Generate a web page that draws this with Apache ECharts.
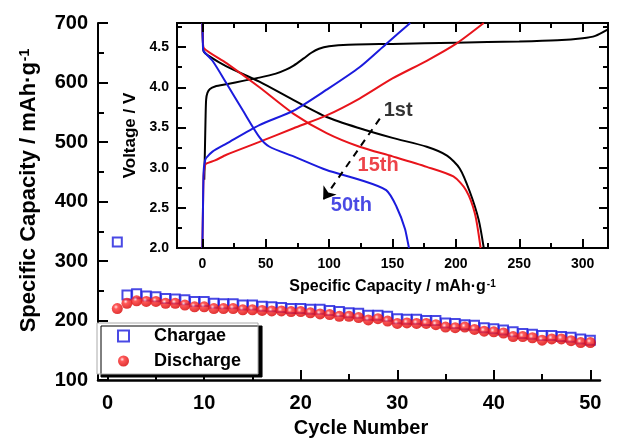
<!DOCTYPE html>
<html><head><meta charset="utf-8">
<script src="https://cdn.jsdelivr.net/npm/echarts@6/dist/echarts.min.js"></script>
<style>html,body{margin:0;padding:0;background:#fff}#c{width:643px;height:445px}</style>
</head><body><div id="c"></div>
<script>
// ---- main plot data ----
const cycles = [1,2,3,4,5,6,7,8,9,10,11,12,13,14,15,16,17,18,19,20,21,22,23,24,25,26,27,28,29,30,31,32,33,34,35,36,37,38,39,40,41,42,43,44,45,46,47,48,49,50];
const chargeCap = [332,243,245,241,240,237,236,235,232,232,229,228,228,226,226,224,223,222,220,220,219,219,217,215,213,212,209,209,207,203,202,202,200,200,196,195,193,192,188,186,184,181,178,177,175,175,173,172,169,167];
const dischargeCap = [220,229,233,232,232,229,229,226,223,223,220,220,220,218,218,217,216,216,215,215,213,211,210,207,207,205,201,203,199,195,196,195,195,193,189,188,189,185,182,181,179,173,173,171,167,169,169,166,163,163];

// ---- inset data: [capacity, voltage] ----
const charge1st = [[1.5,2.85],[2,3.2],[2.5,3.6],[3,3.85],[4,3.93],[6,3.98],[10,4.01],[20,4.04],[32,4.08],[45,4.12],[58,4.17],[66,4.22],[72,4.27],[80,4.36],[86,4.43],[92,4.48],[100,4.51],[115,4.53],[150,4.54],[200,4.555],[250,4.57],[280,4.585],[300,4.61],[310,4.64],[320,4.72]];
const discharge1st = [[0,4.8],[0.5,4.55],[1,4.45],[5,4.39],[19,4.26],[45,4.07],[72,3.84],[98,3.63],[124,3.49],[150,3.37],[177,3.26],[193,3.15],[203,2.99],[211,2.7],[218,2.35],[222,2.0]];
const charge15th = [[0,2.0],[0.5,2.5],[1,2.9],[2,3.02],[3,3.05],[10,3.09],[19,3.16],[45,3.32],[72,3.49],[98,3.65],[124,3.86],[150,4.11],[177,4.33],[200,4.54],[222,4.8]];
const discharge15th = [[0,4.8],[0.5,4.55],[1,4.49],[19,4.3],[45,4.0],[72,3.67],[98,3.43],[124,3.26],[150,3.14],[177,3.01],[198,2.89],[208,2.72],[215,2.43],[219.5,2.0]];
const charge50th = [[0,2.0],[0.5,2.5],[1,2.95],[2,3.08],[3,3.12],[8,3.2],[19,3.3],[45,3.53],[72,3.71],[98,3.97],[124,4.25],[145,4.54],[164,4.8]];
const discharge50th = [[0,4.8],[0.5,4.5],[1,4.45],[8,4.33],[19,4.05],[32,3.71],[45,3.38],[53,3.26],[72,3.14],[98,2.97],[124,2.85],[145,2.72],[153,2.52],[160,2.23],[163,2.0]];
const cycleLabels = [{t:'1st',c:[154.5,3.71],col:'#000'},{t:'15th',c:[138.7,3.03],col:'#e8141b'},{t:'50th',c:[117.6,2.53],col:'#1b1bdd'}];
const arrowFrom = [140,3.61], arrowTo = [95.3,2.6];

// ---- axis ranges / ticks ----
const mainXRange = [-1, 51], mainXTickRange = [0, 50], mainXStep = 10;
const mainYRange = [100, 700], mainYStep = 100;
const insetXRange = [-20, 320], insetXTickRange = [0, 300], insetXStep = 50;
const insetYRange = [2.0, 4.8], insetYStep = 0.5;
const mainXMajor = [0,10,20,30,40,50], mainXMinor = [5,15,25,35,45];
const insetXMajor = [0,50,100,150,200,250,300], insetXMinor = [25,75,125,175,225,275];
const insetYMajor = [2.0,2.5,3.0,3.5,4.0,4.5], insetYMinor = [2.25,2.75,3.25,3.75,4.25,4.75];

const FONT = 'Liberation Sans, Arial, sans-serif';
const BLUE = '#1b1bdd', RED = '#e8141b';
const bold = (s, extra) => Object.assign({fontFamily: FONT, fontWeight: 'bold', fontSize: s, color: '#000'}, extra || {});
const tk = len => ({show:true, inside:true, length:len, lineStyle:{width:2, color:'#000'}});
const mtk = len => ({show:true, splitNumber:2, length:len, lineStyle:{width:2, color:'#000'}});
const line = w => ({show:true, onZero:false, lineStyle:{color:'#000', width:w}});
const noTick = {show:false};

// layout (pixels)
const MAIN = {left:98, top:23, width:502, height:357};
const INSET = {left:177, top:23, width:431, height:225};
const mainPx = MAIN.width / (mainXRange[1]-mainXRange[0]);
const insetPx = INSET.width / (insetXRange[1]-insetXRange[0]);
const mainYUnitPerPx = (mainYRange[1]-mainYRange[0]) / MAIN.height;
const insetYUnitPerPx = (insetYRange[1]-insetYRange[0]) / INSET.height;
const insetXUnitPerPx = 1 / insetPx;

// tick marks as marker segments in axis (data) space
const mainTickSegs = [].concat(
  mainXMajor.map(v => [{coord:[v, mainYRange[0]]}, {coord:[v, mainYRange[0] + 10*mainYUnitPerPx]}]),
  mainXMinor.map(v => [{coord:[v, mainYRange[0]]}, {coord:[v, mainYRange[0] + 6*mainYUnitPerPx]}])
);
const insetTickSegs = [].concat(
  insetXMajor.map(v => [{coord:[v, insetYRange[0]]}, {coord:[v, insetYRange[0] + 9*insetYUnitPerPx]}]),
  insetXMinor.map(v => [{coord:[v, insetYRange[0]]}, {coord:[v, insetYRange[0] + 5*insetYUnitPerPx]}]),
  insetXMajor.map(v => [{coord:[v, insetYRange[1]]}, {coord:[v, insetYRange[1] - 9*insetYUnitPerPx]}]),
  insetXMinor.map(v => [{coord:[v, insetYRange[1]]}, {coord:[v, insetYRange[1] - 5*insetYUnitPerPx]}]),
  insetYMajor.map(v => [{coord:[insetXRange[0], v]}, {coord:[insetXRange[0] + 9*insetXUnitPerPx, v]}]),
  insetYMinor.map(v => [{coord:[insetXRange[0], v]}, {coord:[insetXRange[0] + 5*insetXUnitPerPx, v]}]),
  insetYMajor.map(v => [{coord:[insetXRange[1], v]}, {coord:[insetXRange[1] - 9*insetXUnitPerPx, v]}]),
  insetYMinor.map(v => [{coord:[insetXRange[1], v]}, {coord:[insetXRange[1] - 5*insetXUnitPerPx, v]}])
);
const tickMarkLine = segs => ({silent:true, symbol:['none','none'], label:{show:false}, emphasis:{disabled:true},
  lineStyle:{color:'#000', width:2, type:'solid'}, data: segs});

const chart = echarts.init(document.getElementById('c'), null, {renderer:'canvas'});

const option = {
  animation: false,
  backgroundColor: '#fff',
  grid: [
    Object.assign({show:false}, MAIN),
    Object.assign({show:true, backgroundColor:'#fff', borderColor:'#000', borderWidth:2}, INSET),
    {show:false, top:MAIN.top, height:MAIN.height,
      left: MAIN.left + (mainXTickRange[0]-mainXRange[0])*mainPx,
      width: (mainXTickRange[1]-mainXTickRange[0])*mainPx},
    {show:false, top:INSET.top, height:INSET.height,
      left: INSET.left + (insetXTickRange[0]-insetXRange[0])*insetPx,
      width: (insetXTickRange[1]-insetXTickRange[0])*insetPx}
  ],
  xAxis: [
    {type:'value', gridIndex:0, min:mainXRange[0], max:mainXRange[1], position:'bottom', splitLine:{show:false},
      axisLine:line(2.5), axisTick:noTick, axisLabel:{show:false}},
    {type:'value', gridIndex:1, min:insetXRange[0], max:insetXRange[1], position:'bottom', splitLine:{show:false},
      axisLine:line(2), axisTick:noTick, axisLabel:{show:false}},
    {type:'value', gridIndex:2, min:mainXTickRange[0], max:mainXTickRange[1], interval:mainXStep, position:'bottom',
      splitLine:{show:false}, axisLine:{show:false}, axisTick:noTick,
      axisLabel: bold(20, {margin:13}),
      name:'Cycle Number', nameLocation:'middle', nameGap:38,
      nameTextStyle: bold(20, {padding:[0,0,0,24]})},
    {type:'value', gridIndex:3, min:insetXTickRange[0], max:insetXTickRange[1], interval:insetXStep, position:'bottom',
      splitLine:{show:false}, axisLine:{show:false}, axisTick:noTick,
      axisLabel: bold(14, {margin:9}),
      name:'Specific Capacity / mAh·g{sup|-1}', nameLocation:'middle', nameGap:31,
      nameTextStyle: bold(16, {rich:{sup: bold(10, {verticalAlign:'top', padding:[0,0,6,1]})}})}
  ],
  yAxis: [
    {type:'value', gridIndex:0, min:mainYRange[0], max:mainYRange[1], interval:mainYStep, position:'left', splitLine:{show:false},
      axisLine:line(2), axisTick:tk(10), minorTick:mtk(6),
      axisLabel: bold(20, {margin:10}),
      name:'Specific Capacity / mAh·g{sup|-1}', nameLocation:'middle', nameGap:58, nameRotate:90,
      nameTextStyle: bold(22, {padding:[0,0,0,22], rich:{sup: bold(14, {verticalAlign:'top', padding:[0,0,8,1]})}})},
    {type:'value', gridIndex:1, min:insetYRange[0], max:insetYRange[1], interval:insetYStep, position:'left', splitLine:{show:false},
      axisLine:line(2), axisTick:noTick,
      axisLabel: bold(14, {margin:8, showMaxLabel:false, formatter: v => v.toFixed(1)}),
      name:'Voltage / V', nameLocation:'middle', nameGap:33, nameRotate:90,
      nameTextStyle: bold(17)},
    {type:'value', gridIndex:2, min:mainYRange[0], max:mainYRange[1], show:false},
    {type:'value', gridIndex:3, min:insetYRange[0], max:insetYRange[1], show:false}
  ],
  legend: {
    data:['Chargae','Discharge'], orient:'vertical', left:97, top:323,
    itemWidth:11, itemHeight:11, itemGap:5, padding:[3,17,3,20],
    backgroundColor:'#fff', borderColor:'#aaa', borderWidth:1,
    shadowColor:'#000', shadowBlur:0, shadowOffsetX:4, shadowOffsetY:3,
    textStyle: bold(18, {padding:[0,0,0,20], lineHeight:20}),
    z: 10
  },
  series: [
    {name:'Chargae', type:'scatter', xAxisIndex:0, yAxisIndex:0, clip:false,
      data: cycles.map((c,i)=>[c, chargeCap[i]]), symbol:'rect', symbolSize:9,
      itemStyle:{color:'#fff', borderColor:BLUE, borderWidth:2}, z:2,
      markLine: tickMarkLine(mainTickSegs)},
    {name:'Discharge', type:'scatter', xAxisIndex:0, yAxisIndex:0, clip:false,
      data: cycles.map((c,i)=>[c, dischargeCap[i]]), symbol:'circle', symbolSize:11,
      itemStyle:{color: new echarts.graphic.RadialGradient(0.38,0.35,0.65,[
        {offset:0, color:'#ffe0e0'},{offset:0.3, color:'#ff3030'},{offset:1, color:'#d80000'}])}, z:3},
    {name:'c1', type:'line', xAxisIndex:1, yAxisIndex:1, data: charge1st, showSymbol:false, smooth:0.25,
      lineStyle:{color:'#000', width:2}, z:4,
      markLine: tickMarkLine(insetTickSegs)},
    {name:'d1', type:'line', xAxisIndex:1, yAxisIndex:1, data: discharge1st, showSymbol:false, smooth:0.25,
      lineStyle:{color:'#000', width:2}, z:4,
      markLine:{silent:true, symbol:['none','arrow'], symbolSize:12, label:{show:false},
        lineStyle:{color:'#000', width:2, type:[7,6]},
        data:[[{coord:arrowFrom},{coord:arrowTo}]]}
    },
    {name:'c15', type:'line', xAxisIndex:1, yAxisIndex:1, data: charge15th, showSymbol:false, smooth:0.25,
      lineStyle:{color:RED, width:2}, z:4},
    {name:'d15', type:'line', xAxisIndex:1, yAxisIndex:1, data: discharge15th, showSymbol:false, smooth:0.25,
      lineStyle:{color:RED, width:2}, z:4},
    {name:'c50', type:'line', xAxisIndex:1, yAxisIndex:1, data: charge50th, showSymbol:false, smooth:0.25,
      lineStyle:{color:BLUE, width:2}, z:4},
    {name:'d50', type:'line', xAxisIndex:1, yAxisIndex:1, data: discharge50th, showSymbol:false, smooth:0.25,
      lineStyle:{color:BLUE, width:2}, z:4},
    {name:'labels', type:'scatter', xAxisIndex:1, yAxisIndex:1, symbolSize:1, z:6,
      itemStyle:{color:'rgba(0,0,0,0)'},
      data: cycleLabels.map(l => ({value:l.c, label:{show:true, position:'inside', formatter:l.t, color:l.col, fontSize:20, fontWeight:'bold', fontFamily:FONT}}))
    }
  ]
};
chart.setOption(option);
</script></body></html>
